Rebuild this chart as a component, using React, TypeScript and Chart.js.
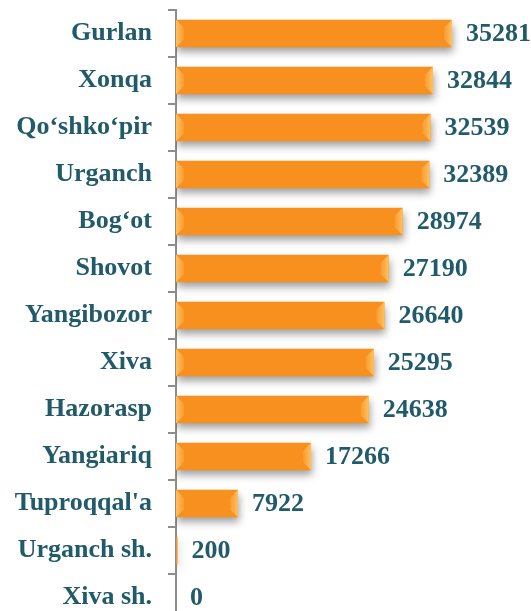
import React, { useEffect, useRef } from "react";
import { Chart, registerables } from "chart.js";

Chart.register(...registerables);

const categories = [
  "Gurlan",
  "Xonqa",
  "Qo‘shko‘pir",
  "Urganch",
  "Bog‘ot",
  "Shovot",
  "Yangibozor",
  "Xiva",
  "Hazorasp",
  "Yangiariq",
  "Tuproqqal'a",
  "Urganch sh.",
  "Xiva sh.",
];

const values = [35281, 32844, 32539, 32389, 28974, 27190, 26640, 25295, 24638, 17266, 7922, 200, 0];

const TEXT_COLOR = "#215A6A";
const FONT_FAMILY = "'Liberation Serif', 'Times New Roman', serif";

const shadowPlugin = {
  id: "barShadow",
  beforeDatasetsDraw(chart: any) {
    const ctx = chart.ctx;
    ctx.save();
    ctx.shadowColor = "rgba(0,0,0,0.38)";
    ctx.shadowBlur = 8;
    ctx.shadowOffsetX = 1;
    ctx.shadowOffsetY = 5;
  },
  afterDatasetsDraw(chart: any) {
    const ctx = chart.ctx;
    ctx.restore();
    const meta = chart.getDatasetMeta(0);
    meta.data.forEach((bar: any, i: number) => {
      const { x, y, base, height } = bar.getProps(["x", "y", "base", "height"], true);
      const top = y - height / 2;
      const bottom = y + height / 2;
      const w = x - base;
      const bev = 8;
      if (w > bev * 2.5) {
        const gl = ctx.createLinearGradient(base, 0, base + bev, 0);
        gl.addColorStop(0, "#FFC25E");
        gl.addColorStop(1, "#FA9A30");
        ctx.beginPath();
        ctx.moveTo(base, top);
        ctx.lineTo(base + bev, top + bev);
        ctx.lineTo(base + bev, bottom - bev);
        ctx.lineTo(base, bottom);
        ctx.closePath();
        ctx.fillStyle = gl;
        ctx.fill();
        const gr = ctx.createLinearGradient(x - bev, 0, x, 0);
        gr.addColorStop(0, "#FA9A30");
        gr.addColorStop(1, "#FFC25E");
        ctx.beginPath();
        ctx.moveTo(x, top);
        ctx.lineTo(x - bev, top + bev);
        ctx.lineTo(x - bev, bottom - bev);
        ctx.lineTo(x, bottom);
        ctx.closePath();
        ctx.fillStyle = gr;
        ctx.fill();
      }
      ctx.save();
      ctx.fillStyle = TEXT_COLOR;
      ctx.font = `bold 26px ${FONT_FAMILY}`;
      ctx.textAlign = "left";
      ctx.textBaseline = "middle";
      ctx.fillText(String(values[i]), x + 14, y + 1);
      ctx.restore();
    });
  },
};

export default function App() {
  const ref = useRef<HTMLCanvasElement | null>(null);

  useEffect(() => {
    document.body.style.margin = "0";
    document.body.style.overflow = "hidden";
    const canvas = ref.current!;
    const chart = new Chart(canvas, {
      type: "bar",
      data: {
        labels: categories,
        datasets: [
          {
            data: values,
            backgroundColor: (c: any) => {
              const el = c.element;
              const ctx = c.chart.ctx;
              if (!el || el.height === undefined) return "#F7901E";
              const top = el.y - el.height / 2;
              const bottom = el.y + el.height / 2;
              const g = ctx.createLinearGradient(0, top, 0, bottom);
              g.addColorStop(0, "#FFB25A");
              g.addColorStop(0.12, "#FA9527");
              g.addColorStop(0.5, "#F78F1E");
              g.addColorStop(0.82, "#E5760F");
              g.addColorStop(1, "#CC6209");
              return g;
            },
            borderWidth: 0,
            barPercentage: 0.58,
            categoryPercentage: 1,
          },
        ],
      },
      options: {
        indexAxis: "y",
        responsive: false,
        animation: false,
        devicePixelRatio: 1,
        layout: { padding: { top: 10, right: 3, bottom: 0, left: 0 } },
        plugins: { legend: { display: false }, tooltip: { enabled: false } },
        scales: {
          x: { display: false, min: 0, max: 45000 },
          y: {
            afterFit(scale: any) {
              scale.width = 176;
              scale.paddingTop = 0;
              scale.paddingBottom = 0;
            },
            grid: {
              drawOnChartArea: false,
              drawTicks: true,
              tickLength: 8,
              color: "#8C8C8C",
              lineWidth: 2,
              offset: true,
            },
            border: { display: true, color: "#8C8C8C", width: 2 },
            ticks: {
              color: TEXT_COLOR,
              padding: 16,
              font: { family: FONT_FAMILY, size: 26, weight: "bold" },
            },
          },
        },
      },
      plugins: [shadowPlugin],
    } as any);
    return () => chart.destroy();
  }, []);

  return (
    <div style={{ width: 531, height: 611, overflow: "hidden", background: "#fff" }}>
      <canvas ref={ref} width={531} height={621} style={{ display: "block" }} />
    </div>
  );
}
